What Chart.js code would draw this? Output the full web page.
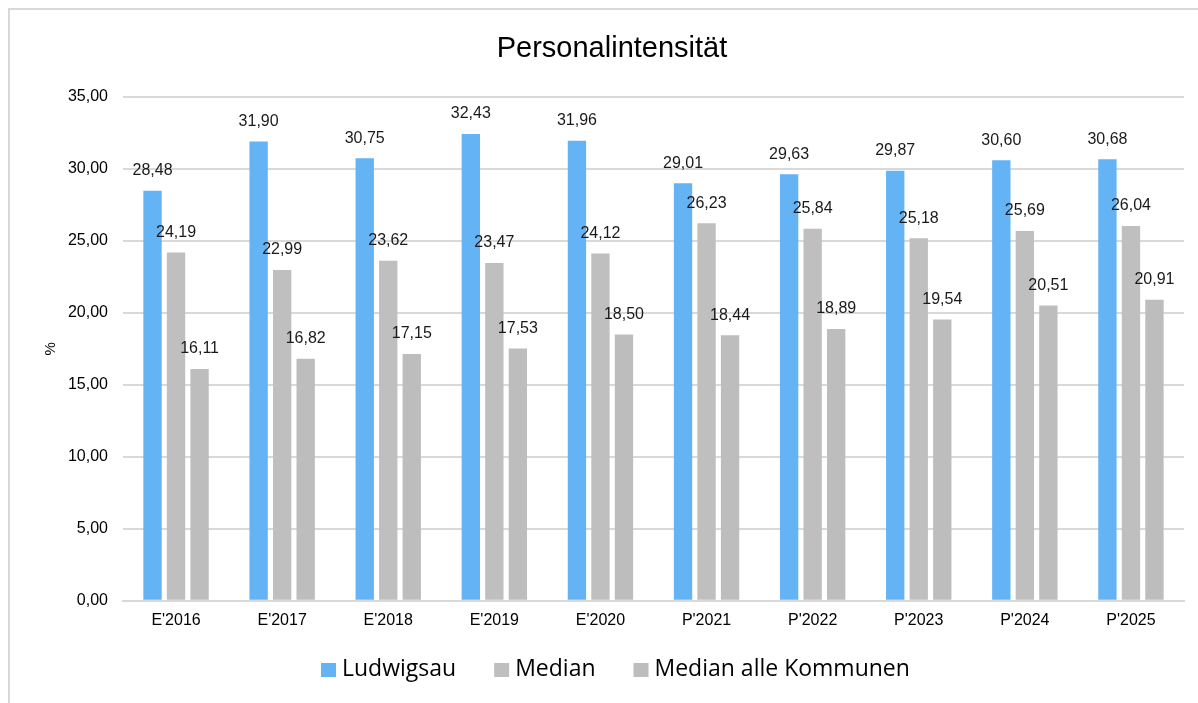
<!DOCTYPE html>
<html>
<head>
<meta charset="utf-8">
<script src="https://cdn.jsdelivr.net/npm/chart.js@4.4.1/dist/chart.umd.min.js"></script>
<style>
  html, body { margin: 0; padding: 0; background: #fff; }
  #wrap { width: 1198px; height: 703px; position: relative; }
</style>
</head>
<body>
<div id="wrap"><canvas id="bar_chart"></canvas></div>
<script>
var categories = ["E'2016", "E'2017", "E'2018", "E'2019", "E'2020", "P'2021", "P'2022", "P'2023", "P'2024", "P'2025"];
var ludwigsau = [28.48, 31.90, 30.75, 32.43, 31.96, 29.01, 29.63, 29.87, 30.60, 30.68];
var median = [24.19, 22.99, 23.62, 23.47, 24.12, 26.23, 25.84, 25.18, 25.69, 26.04];
var medianAlle = [16.11, 16.82, 17.15, 17.53, 18.50, 18.44, 18.89, 19.54, 20.51, 20.91];
var yTicks = [0, 5, 10, 15, 20, 25, 30, 35];

var FONT = '"Liberation Sans", Arial, sans-serif';

function fmt(v) {
    return v.toFixed(2).replace('.', ',');
}

// frame, title, value labels and legend drawn by hand
var decorations = {
    id: 'decorations',
    beforeDraw: function (chart) {
        var ctx = chart.ctx;
        ctx.save();
        ctx.strokeStyle = '#d9d9d9';
        ctx.lineWidth = 2;
        ctx.beginPath();
        ctx.moveTo(9, 710);
        ctx.lineTo(9, 9);
        ctx.lineTo(1210, 9);
        ctx.stroke();
        ctx.restore();
    },
    afterDatasetsDraw: function (chart) {
        var ctx = chart.ctx;
        ctx.save();
        ctx.font = '16px ' + FONT;
        ctx.fillStyle = '#1a1a1a';
        ctx.textAlign = 'center';
        ctx.textBaseline = 'middle';
        chart.data.datasets.forEach(function (ds, i) {
            chart.getDatasetMeta(i).data.forEach(function (bar, j) {
                ctx.fillText(fmt(ds.data[j]), bar.x, bar.y - 20);
            });
        });

        // title
        ctx.font = '29px ' + FONT;
        ctx.fillStyle = '#000';
        ctx.textBaseline = 'alphabetic';
        ctx.fillText('Personalintensität', 612, 57);

        // legend
        ctx.font = '23px "Open Sans", sans-serif';
        ctx.textAlign = 'left';
        ctx.textBaseline = 'middle';
        var x = 321;
        chart.data.datasets.forEach(function (ds) {
            ctx.fillStyle = ds.backgroundColor;
            ctx.fillRect(x, 663, 15, 14);
            ctx.fillStyle = '#000';
            ctx.fillText(ds.label, x + 21, 669);
            x += 21 + ctx.measureText(ds.label).width + 38;
        });
        ctx.restore();
    }
};

new Chart(document.getElementById("bar_chart").getContext("2d"), {
    type: 'bar',
    data: {
        labels: categories,
        datasets: [{
            label: "Ludwigsau",
            data: ludwigsau,
            backgroundColor: '#63b3f5'
        }, {
            label: "Median",
            data: median,
            backgroundColor: '#bfbfbf'
        }, {
            label: "Median alle Kommunen",
            data: medianAlle,
            backgroundColor: '#bdbdbd'
        }]
    },
    options: {
        responsive: true,
        maintainAspectRatio: false,
        animation: false,
        layout: {
            padding: { top: 97, left: 30, right: 14, bottom: 63 }
        },
        datasets: {
            bar: { categoryPercentage: 0.665, barPercentage: 0.78 }
        },
        plugins: {
            legend: { display: false },
            title: { display: false },
            tooltip: { enabled: false }
        },
        scales: {
            x: {
                grid: { display: false, drawTicks: false },
                border: { color: '#d9d9d9', width: 2 },
                ticks: {
                    color: '#000',
                    padding: 10,
                    font: { family: FONT, size: 16 }
                }
            },
            y: {
                min: 0,
                max: 35,
                afterBuildTicks: function (axis) {
                    axis.ticks = yTicks.map(function (v) { return { value: v }; });
                },
                afterFit: function (axis) {
                    axis.width = 93;
                },
                grid: { color: '#d9d9d9', lineWidth: 2, drawTicks: false },
                border: { display: false },
                ticks: {
                    color: '#000',
                    padding: 15,
                    font: { family: FONT, size: 16 },
                    callback: function (v) { return fmt(v); }
                },
                title: {
                    display: true,
                    text: '%',
                    color: '#000',
                    padding: { top: 12, bottom: 0 },
                    font: { family: FONT, size: 15 }
                }
            }
        }
    },
    plugins: [decorations]
});
</script>
</body>
</html>
